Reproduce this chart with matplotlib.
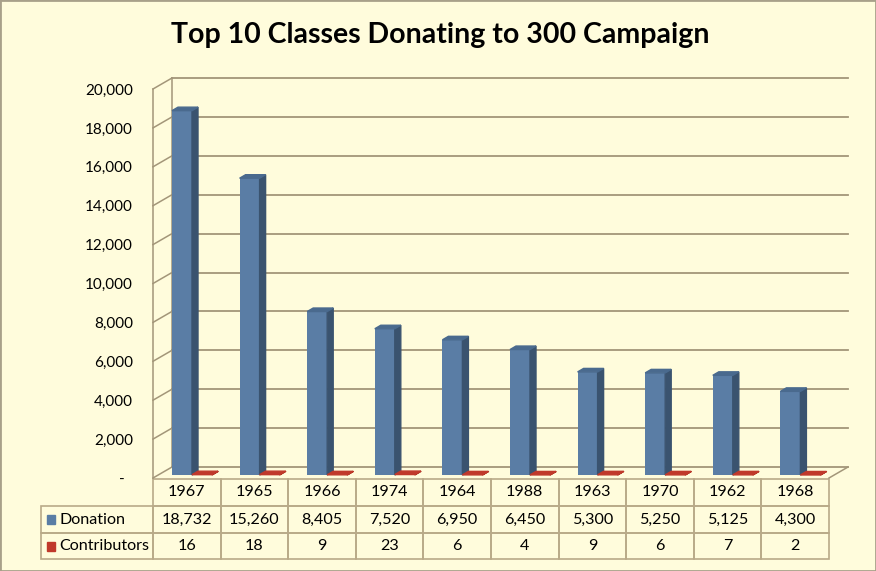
import matplotlib.pyplot as plt
from matplotlib.patches import Polygon, Rectangle
from matplotlib.table import Table

plt.rcParams['font.family'] = ['Lato', 'DejaVu Sans']

# data
years = ['1967', '1965', '1966', '1974', '1964', '1988', '1963', '1970', '1962', '1968']
donation = [18732, 15260, 8405, 7520, 6950, 6450, 5300, 5250, 5125, 4300]
contributors = [16, 18, 9, 23, 6, 4, 9, 6, 7, 2]
yticks = list(range(0, 20001, 2000))

W, H = 876, 571
bg = '#FFFCDC'
grid_c = '#A39679'
blue, blue_side, blue_top = '#5A7DA5', '#3A536F', '#4A6A8E'
red, red_top = '#C0392B', '#A8301F'

fig = plt.figure(figsize=(W / 100, H / 100), dpi=100, facecolor=bg)

# front plane of the 3d box, in pixels
x0, x1 = 153, 829
y0, y1 = 478, 89
ax = fig.add_axes([x0 / W, 1 - y0 / H, (x1 - x0) / W, (y0 - y1) / H])
ax.set_facecolor('none')
ax.set_xlim(-0.5, 9.5)
ax.set_ylim(0, 20000)
for s in ax.spines.values():
    s.set_visible(False)
ax.set_xticks([])
ax.set_yticks(yticks)
ax.set_yticklabels(['-' if v == 0 else f'{v:,}' for v in yticks], fontsize=11)
ax.tick_params(axis='y', length=0, pad=14.5)
# accounting style dash sits a bit left of the numbers
ax.get_yticklabels()[0].set_x(-0.012)

# pixel -> data conversions
px_x = 10 / (x1 - x0)
px_y = 20000 / (y0 - y1)
wall_dx, wall_dy = 19 * px_x, 11 * px_y

# back wall gridlines, left wall, floor
for v in yticks:
    ax.plot([-0.5 + wall_dx, 9.5 + wall_dx], [v + wall_dy] * 2, color=grid_c, lw=1.3, clip_on=False, zorder=1)
    ax.plot([-0.5, -0.5 + wall_dx], [v, v + wall_dy], color=grid_c, lw=1.1, clip_on=False, zorder=1)
ax.plot([-0.5, -0.5], [0, 20000], color=grid_c, lw=1.1, clip_on=False, zorder=1)
ax.plot([-0.5 + wall_dx] * 2, [wall_dy, 20000 + wall_dy], color=grid_c, lw=1.1, clip_on=False, zorder=1)
ax.plot([9.5, 9.5 + wall_dx], [0, wall_dy], color=grid_c, lw=1.1, clip_on=False, zorder=1)

# 3d columns
bar_dy = 3 * px_y
bw = 20 * px_x
dx, dy = 6 * px_x, 3.5 * px_y
xs = list(range(len(years)))


def column(xl, val, face, side, top):
    xr = xl + bw
    b = bar_dy
    ax.bar(xl, val, width=bw, bottom=b, align='edge', color=face, zorder=3)
    ax.add_patch(Polygon([(xr, b), (xr + dx, b + dy), (xr + dx, b + val + dy), (xr, b + val)],
                         closed=True, color=side, zorder=3, clip_on=False))
    ax.add_patch(Polygon([(xl, b + val), (xl + dx, b + val + dy), (xr + dx, b + val + dy), (xr, b + val)],
                         closed=True, color=top, zorder=3, clip_on=False))


for i in xs:
    column(i - 14.8 * px_x, donation[i], blue, blue_side, blue_top)
    column(i + 5.2 * px_x, contributors[i], red, red_top, red)

# data table
tl, tr, tt, tb_ = 41, 829, 479, 559
tab = Table(ax, bbox=[(tl - x0) / (x1 - x0), (y0 - tb_) / (y0 - y1),
                      (tr - tl) / (x1 - x0), (tb_ - tt) / (y0 - y1)])
row_h = [27, 27, 26]
lab_w, col_w = x0 - tl, (x1 - x0) / 10
tab_edge = '#B9AA88'
for j, yr in enumerate(years):
    tab.add_cell(0, j + 1, width=col_w, height=row_h[0], text=yr, loc='center')
for r, (name, vals) in enumerate([('Donation', [f'{v:,}' for v in donation]),
                                   ('Contributors', [str(v) for v in contributors])], start=1):
    c = tab.add_cell(r, 0, width=lab_w, height=row_h[r], text=name, loc='left')
    c.PAD = 0.165
    for j, v in enumerate(vals):
        tab.add_cell(r, j + 1, width=col_w, height=row_h[r], text=v, loc='center')
tab.auto_set_font_size(False)
tab.set_fontsize(11.6)
for cell in tab.get_celld().values():
    cell.set_edgecolor(tab_edge)
    cell.set_linewidth(1.2)
    cell.set_facecolor('none')
ax.add_table(tab)

# legend keys in the row labels
for yc, col in [(519.5, blue), (546, red)]:
    fig.add_artist(Rectangle((47 / W, 1 - (yc + 4.5) / H), 8 / W, 9 / H,
                             transform=fig.transFigure, color=col))

fig.text(440 / W, 1 - 35 / H, 'Top 10 Classes Donating to 300 Campaign',
         ha='center', va='center', fontsize=20.5, fontweight='bold')

fig.add_artist(Rectangle((0, 0), 1, 1, transform=fig.transFigure, fill=False,
                         edgecolor='#A8A08A', lw=2))

fig.savefig('out.png', dpi=100, facecolor=bg)
